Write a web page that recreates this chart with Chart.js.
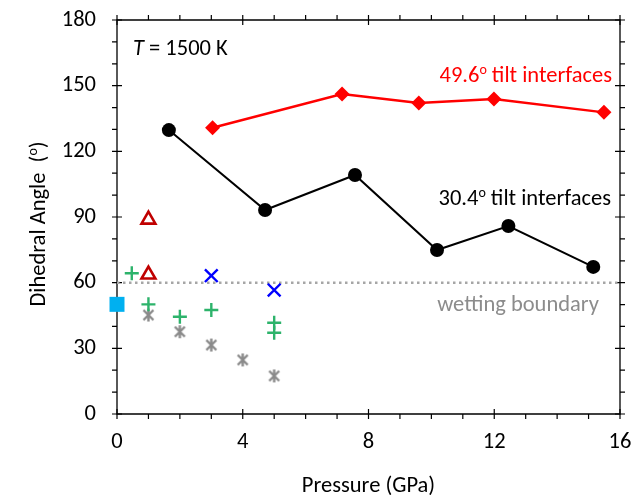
<!DOCTYPE html>
<html><head><meta charset="utf-8">
<script src="https://cdn.jsdelivr.net/npm/chart.js@4.4.0/dist/chart.umd.min.js"></script>
<style>html,body{margin:0;padding:0;background:#fff}#wrap{width:642px;height:495px;position:relative}</style>
</head><body><div id="wrap"><canvas id="c"></canvas></div>
<script>
const FONT = "Carlito, Lato, 'Open Sans', sans-serif";
const FS = 22.5;
const xTickValues = [0, 4, 8, 12, 16];
const yTickValues = [0, 30, 60, 90, 120, 150, 180];
const tilt304P = [1.65, 4.71, 7.57, 10.18, 12.45, 15.15];
const tilt304A = [129.7, 93.2, 109.2, 74.9, 85.9, 67.2];
const tilt496P = [3.04, 7.16, 9.6, 11.99, 15.49];
const tilt496A = [130.8, 146.2, 142.1, 143.9, 137.8];
const triP = [1, 1];
const triA = [88.8, 63.7];
const plusP = [0.47, 1, 2, 3, 5, 5];
const plusA = [64.3, 50.1, 44.4, 47.5, 41.7, 37.1];
const starP = [1, 2, 3, 4, 5];
const starA = [45.2, 37.6, 31.5, 24.7, 17.4];
const crossP = [3, 5];
const crossA = [63.2, 56.6];
const squareP = [0];
const squareA = [50.1];
const wetP = [0, 16];
const wetA = [60, 60];

const pts = (xs, ys) => xs.map((x, i) => ({x, y: ys[i]}));

// Excel-like star marker (X with vertical bar)
const starImg = document.createElement('canvas');
starImg.width = 15; starImg.height = 15;
(function(){
  const c = starImg.getContext('2d');
  c.strokeStyle = '#8a8a8a'; c.lineWidth = 2.4; c.lineCap = 'butt';
  c.beginPath();
  c.moveTo(2.5, 2.5); c.lineTo(12.5, 12.5);
  c.moveTo(12.5, 2.5); c.lineTo(2.5, 12.5);
  c.moveTo(7.5, 1); c.lineTo(7.5, 14);
  c.stroke();
})();

function drawRich(ctx, parts, x, y, align) {
  let total = 0;
  parts.forEach(p => { ctx.font = p.font; p.w = ctx.measureText(p.text).width; total += p.w; });
  let cx = align === 'right' ? x - total : (align === 'center' ? x - total / 2 : x);
  parts.forEach(p => { ctx.font = p.font; ctx.fillText(p.text, cx, y + (p.dy || 0)); cx += p.w; });
}

const axesPlugin = {
  id: 'axesFrame',
  beforeDatasetsDraw(chart) {
    const {ctx, chartArea: a, scales: {x, y}} = chart;
    ctx.save();
    ctx.strokeStyle = '#000'; ctx.lineWidth = 1.3;
    ctx.beginPath();
    ctx.rect(a.left, a.top, a.right - a.left, a.bottom - a.top);
    ctx.stroke();
    ctx.lineWidth = 1.2;
    ctx.beginPath();
    for (let v = 0; v <= 16; v += 1) {
      const px = x.getPixelForValue(v);
      const major = v % 4 === 0;
      ctx.moveTo(px, a.bottom + 5); ctx.lineTo(px, major ? a.bottom - 5 : a.bottom);
      ctx.moveTo(px, a.top - 5); ctx.lineTo(px, major ? a.top + 5 : a.top);
    }
    for (let v = 0; v <= 180; v += 10) {
      const py = y.getPixelForValue(v);
      const major = v % 30 === 0;
      ctx.moveTo(a.left - 5, py); ctx.lineTo(major ? a.left + 5 : a.left, py);
      ctx.moveTo(a.right + 5, py); ctx.lineTo(major ? a.right - 5 : a.right, py);
    }
    ctx.stroke();
    ctx.restore();
  },
  afterDraw(chart) {
    const {ctx, chartArea: a} = chart;
    ctx.save();
    ctx.textBaseline = 'alphabetic';
    const f = (s, st) => (st || '') + ' ' + s + 'px ' + FONT;
    // y title
    ctx.save();
    ctx.translate(45, 224);
    ctx.rotate(-Math.PI / 2);
    ctx.fillStyle = '#000';
    drawRich(ctx, [
      {text: 'Dihedral Angle  (', font: f(FS)},
      {text: 'o', font: f(14), dy: -8},
      {text: ')', font: f(FS)}
    ], 0, 0, 'center');
    ctx.restore();
    // x title
    ctx.fillStyle = '#000';
    ctx.textAlign = 'left';
    drawRich(ctx, [{text: 'Pressure (GPa)', font: f(FS)}], (a.left + a.right) / 2, 492, 'center');
    // T = 1500 K
    drawRich(ctx, [
      {text: 'T', font: f(FS, 'italic')},
      {text: ' = 1500 K', font: f(FS)}
    ], 133, 55, 'left');
    ctx.fillStyle = '#ff0000';
    drawRich(ctx, [
      {text: '49.6', font: f(FS)},
      {text: 'o', font: f(14), dy: -8},
      {text: ' tilt interfaces', font: f(FS)}
    ], 612, 82, 'right');
    ctx.fillStyle = '#000';
    drawRich(ctx, [
      {text: '30.4', font: f(FS)},
      {text: 'o', font: f(14), dy: -8},
      {text: ' tilt interfaces', font: f(FS)}
    ], 611, 205, 'right');
    ctx.fillStyle = '#8c8c8c';
    drawRich(ctx, [{text: 'wetting boundary', font: f(FS)}], 599, 311, 'right');
    ctx.restore();
  }
};

new Chart(document.getElementById('c'), {
  type: 'scatter',
  data: {
    datasets: [
      {label: 'wetting', data: pts(wetP, wetA), showLine: true, borderColor: '#a6a6a6', borderWidth: 2.5, borderDash: [2.5, 3.5], pointRadius: 0, order: 10},
      {label: 'star', data: pts(starP, starA), pointStyle: starImg, pointRadius: 7.5, order: 9},
      {label: 'plus', data: pts(plusP, plusA), pointStyle: 'cross', pointRadius: 7, borderColor: '#2db36b', borderWidth: 2.4, order: 8},
      {label: 'square', data: pts(squareP, squareA), pointStyle: 'rect', pointRadius: 10.6, backgroundColor: '#00b0f0', borderColor: '#00b0f0', borderWidth: 0, order: 7},
      {label: 'tri', data: pts(triP, triA), pointStyle: 'triangle', pointRadius: 8, backgroundColor: 'rgba(255,255,255,0)', borderColor: '#c00000', borderWidth: 2.6, order: 6},
      {label: 'x', data: pts(crossP, crossA), pointStyle: 'crossRot', pointRadius: 9, borderColor: '#0000ff', borderWidth: 2.4, order: 5},
      {label: '30.4', data: pts(tilt304P, tilt304A), showLine: true, borderColor: '#000', borderWidth: 2, pointStyle: 'circle', pointRadius: 7, pointBackgroundColor: '#000', pointBorderColor: '#000', pointBorderWidth: 0, order: 4},
      {label: '49.6', data: pts(tilt496P, tilt496A), showLine: true, borderColor: '#ff0000', borderWidth: 2.5, pointStyle: 'rectRot', pointRadius: 7.5, pointBackgroundColor: '#ff0000', pointBorderColor: '#ff0000', pointBorderWidth: 0, order: 3}
    ]
  },
  options: {
    responsive: true, maintainAspectRatio: false, animation: false,
    layout: {padding: {top: 20, right: 22, left: 0, bottom: 0}},
    plugins: {legend: {display: false}, tooltip: {enabled: false}},
    clip: false,
    scales: {
      x: {
        type: 'linear', min: 0, max: 16,
        afterBuildTicks: s => { s.ticks = xTickValues.map(v => ({value: v})); },
        ticks: {font: {family: FONT, size: FS}, color: '#000', padding: 15, maxRotation: 0},
        grid: {display: false, drawTicks: false}, border: {display: false},
        afterFit: s => { s.height = 81; s.paddingLeft = 0; s.paddingRight = 0; }
      },
      y: {
        type: 'linear', min: 0, max: 180,
        afterBuildTicks: s => { s.ticks = yTickValues.map(v => ({value: v})); },
        ticks: {font: {family: FONT, size: FS}, color: '#000', padding: 21},
        grid: {display: false, drawTicks: false}, border: {display: false},
        afterFit: s => { s.width = 117; s.paddingTop = 0; s.paddingBottom = 0; }
      }
    }
  },
  plugins: [axesPlugin]
});
</script></body></html>
